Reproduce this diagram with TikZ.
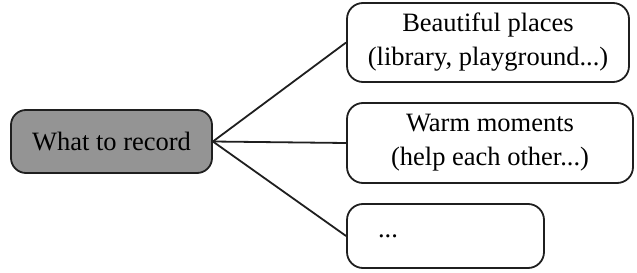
\documentclass[tikz,border=0pt]{standalone}
\usepackage{fontspec}
\setmainfont{Liberation Serif}
\begin{document}
\begin{tikzpicture}[x=1pt,y={(0pt,-1pt)},
  box/.style={draw=black!88, line width=1.8pt, rounded corners=16pt, inner sep=0pt, align=center, font=\fontsize{26.5}{34}\selectfont},
  link/.style={draw=black!88, line width=1.8pt}]
\useasboundingbox (0,0) rectangle (637,273);
\node[box, fill=black!42, minimum width=201pt, minimum height=63pt, rounded corners=15pt] (root) at (111.5,141.5) {What to record};
\node[box, minimum width=282pt, minimum height=79pt] (b1) at (488,42.5) {Beautiful places\\(library, playground...)};
\node[box, minimum width=286pt, minimum height=80pt] (b2) at (490,143) {Warm moments\\(help each other...)};
\node[box, minimum width=197pt, minimum height=64pt, text width=135pt, inner xsep=31pt, align=left] (b3) at (445.5,236) {...};
\draw[link] (root.east) -- (b1.west);
\draw[link] (root.east) -- (b2.west);
\draw[link] (root.east) -- (b3.west);
\end{tikzpicture}
\end{document}
